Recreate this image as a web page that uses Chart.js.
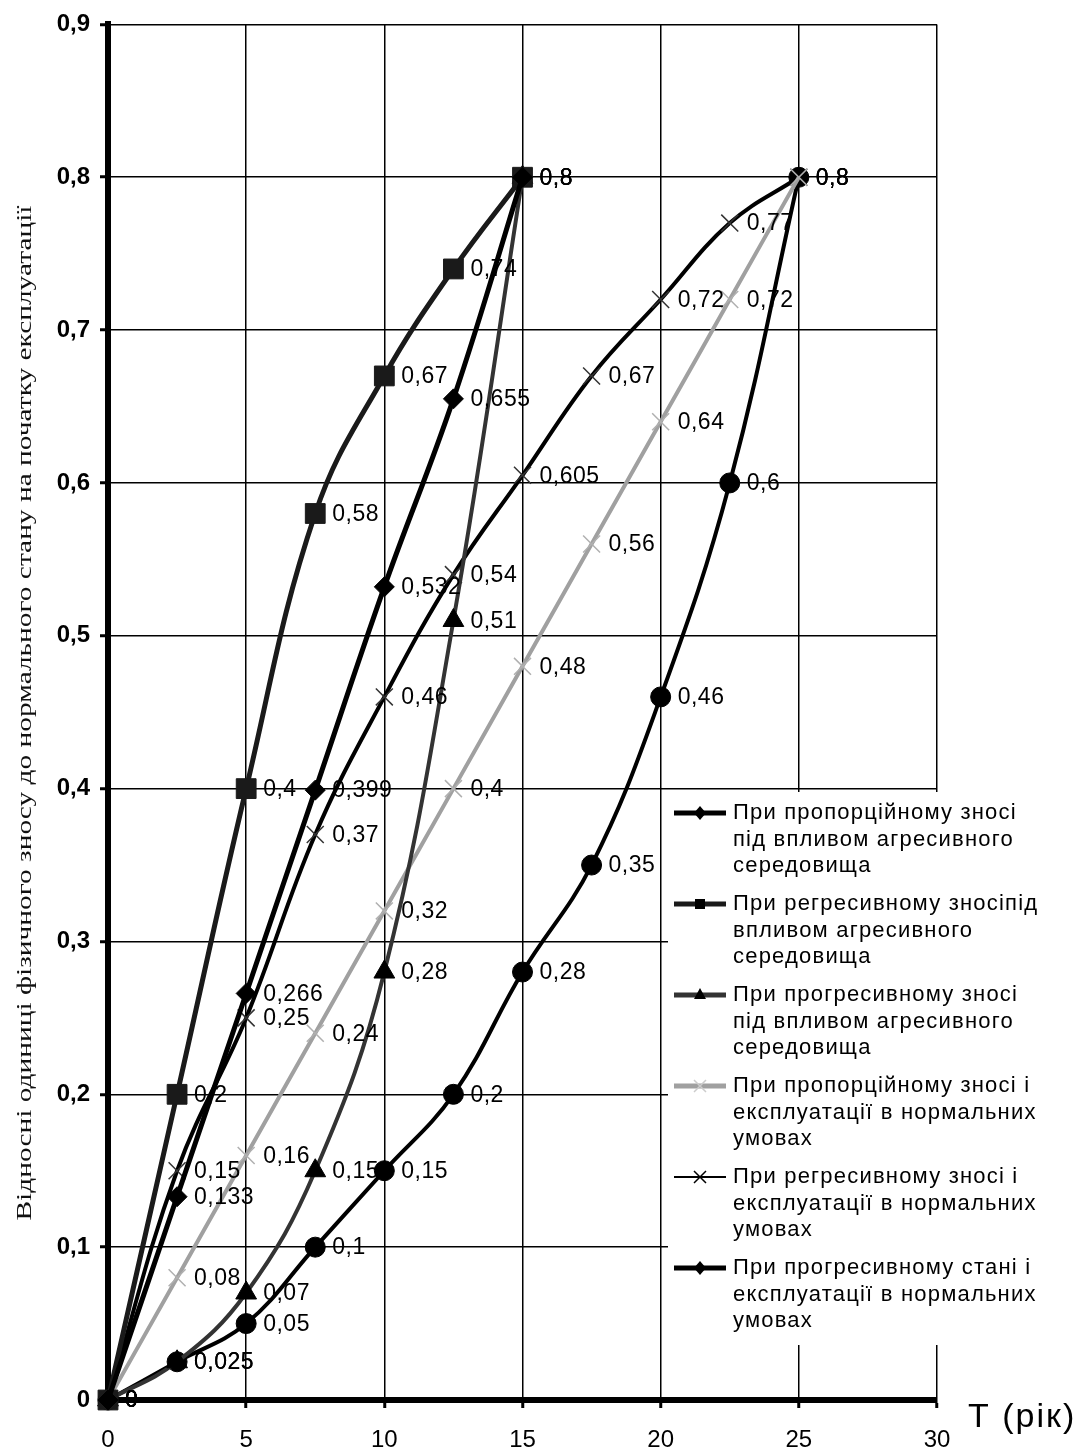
<!DOCTYPE html>
<html>
<head>
<meta charset="utf-8">
<script src="https://cdn.jsdelivr.net/npm/chart.js@4.4.1/dist/chart.umd.min.js"></script>
<style>
  body { margin: 0; background: #fff; }
  #wrap { width: 1075px; height: 1453px; position: relative; }
</style>
</head>
<body>
<div id="wrap"><canvas id="chart"></canvas></div>
<script>
// years (x axis)
const years = [0, 2.5, 5, 7.5, 10, 12.5, 15, 17.5, 20, 22.5, 25];

// series values
const propAggr = [0, 0.133, 0.266, 0.399, 0.532, 0.655, 0.8];
const regrAggr = [0, 0.2, 0.4, 0.58, 0.67, 0.74, 0.8];
const progAggr = [0, 0.025, 0.07, 0.15, 0.28, 0.51, 0.8];
const propNorm = [0, 0.08, 0.16, 0.24, 0.32, 0.4, 0.48, 0.56, 0.64, 0.72, 0.8];
const regrNorm = [0, 0.15, 0.25, 0.37, 0.46, 0.54, 0.605, 0.67, 0.72, 0.77, 0.8];
const progNorm = [0, 0.025, 0.05, 0.1, 0.15, 0.2, 0.28, 0.35, 0.46, 0.6, 0.8];

// legend text, as wrapped in the picture
const legendLines = [
    ['При пропорційному зносі', 'під впливом агресивного', 'середовища'],
    ['При регресивному зносіпід', 'впливом агресивного', 'середовища'],
    ['При прогресивному зносі', 'під впливом агресивного', 'середовища'],
    ['При пропорційному зносі і', 'експлуатації в нормальних', 'умовах'],
    ['При регресивному зносі і', 'експлуатації в нормальних', 'умовах'],
    ['При прогресивному стані і', 'експлуатації в нормальних', 'умовах']
];

const yTitle = 'Відносні одиниці фізичного зносу до нормального стану на початку експлуатації';
const xTitle = 'T (рік)';

const FONT = '"Liberation Sans", Arial, sans-serif';

function pts(values) {
    return values.map((v, i) => ({ x: years[i], y: v }));
}

function fmt(v) {
    return String(v).replace('.', ',');
}

function series(label, values, color, width, style, radius, markColor, markWidth) {
    return {
        label: label,
        data: pts(values),
        borderColor: color,
        borderWidth: width,
        backgroundColor: markColor || color,
        pointStyle: style,
        pointRadius: radius,
        pointBackgroundColor: markColor || color,
        pointBorderColor: markColor || color,
        pointBorderWidth: markWidth || 1,
        tension: 0.4,
        clip: false
    };
}

const datasets = [
    series(legendLines[0].join(' '), propAggr, '#000', 5, 'rectRot', 10),
    series(legendLines[1].join(' '), regrAggr, '#1a1a1a', 5, 'rect', 14),
    series(legendLines[2].join(' '), progAggr, '#333', 4, 'triangle', 12, '#000'),
    series(legendLines[3].join(' '), propNorm, '#a0a0a0', 4, 'crossRot', 12, '#b0b0b0', 1.5),
    series(legendLines[4].join(' '), regrNorm, '#000', 4, 'crossRot', 12, '#333', 1.5),
    series(legendLines[5].join(' '), progNorm, '#000', 4, 'circle', 10)
];

// value labels right of every point
const valueLabels = {
    id: 'valueLabels',
    afterDatasetsDraw(chart) {
        const ctx = chart.ctx;
        ctx.save();
        ctx.font = '23px ' + FONT;
        ctx.letterSpacing = '0.5px';
        ctx.fillStyle = '#000';
        ctx.textBaseline = 'middle';
        chart.data.datasets.forEach((ds, di) => {
            chart.getDatasetMeta(di).data.forEach((p, i) => {
                ctx.fillText(fmt(ds.data[i].y), p.x + 17, p.y + 1);
            });
        });
        ctx.restore();
    }
};

// legend box over the lower right part of the plot
const boxLegend = {
    id: 'boxLegend',
    afterDraw(chart) {
        const ctx = chart.ctx;
        ctx.save();
        ctx.fillStyle = '#fff';
        ctx.fillRect(668, 792, 407, 553);
        ctx.font = '22px ' + FONT;
        ctx.letterSpacing = '1.2px';
        ctx.textBaseline = 'middle';
        legendLines.forEach((lines, i) => {
            const y0 = 813 + i * 91;
            const ds = datasets[i];
            ctx.strokeStyle = ds.borderColor;
            ctx.lineWidth = i === 4 ? 2 : 5;
            ctx.beginPath();
            ctx.moveTo(674, y0);
            ctx.lineTo(726, y0);
            ctx.stroke();
            const cx = 700;
            ctx.fillStyle = i === 3 ? '#ccc' : '#000';
            ctx.strokeStyle = i === 3 ? '#ccc' : '#000';
            ctx.lineWidth = 1.5;
            ctx.beginPath();
            if (i === 1) {
                ctx.rect(cx - 5, y0 - 5, 10, 10);
                ctx.fill();
            } else if (i === 2) {
                ctx.moveTo(cx, y0 - 7); ctx.lineTo(cx + 6, y0 + 4); ctx.lineTo(cx - 6, y0 + 4);
                ctx.closePath(); ctx.fill();
            } else if (i === 3 || i === 4) {
                ctx.moveTo(cx - 6, y0 - 6); ctx.lineTo(cx + 6, y0 + 6);
                ctx.moveTo(cx + 6, y0 - 6); ctx.lineTo(cx - 6, y0 + 6);
                ctx.stroke();
            } else {
                ctx.moveTo(cx, y0 - 7); ctx.lineTo(cx + 6, y0); ctx.lineTo(cx, y0 + 7); ctx.lineTo(cx - 6, y0);
                ctx.closePath(); ctx.fill();
            }
            ctx.fillStyle = '#000';
            lines.forEach((t, j) => ctx.fillText(t, 733, y0 + j * 26.5));
        });
        ctx.restore();
    }
};

// axis titles
const titles = {
    id: 'titles',
    afterDraw(chart) {
        const ctx = chart.ctx;
        ctx.save();
        ctx.fillStyle = '#111';
        ctx.font = '22px "Liberation Serif", serif';
        ctx.textAlign = 'center';
        ctx.textBaseline = 'middle';
        const w = ctx.measureText(yTitle).width;
        ctx.translate(25, 713);
        ctx.rotate(-Math.PI / 2);
        ctx.scale(1015 / w, 1);
        ctx.fillText(yTitle, 0, 0);
        ctx.restore();

        ctx.save();
        ctx.fillStyle = '#000';
        ctx.font = '34px ' + FONT;
        ctx.letterSpacing = '2px';
        ctx.textBaseline = 'middle';
        ctx.fillText(xTitle, 968, 1418);
        ctx.restore();
    }
};

new Chart(document.getElementById('chart').getContext('2d'), {
    type: 'line',
    data: { datasets: datasets },
    options: {
        responsive: true,
        maintainAspectRatio: false,
        animation: false,
        layout: { padding: { left: 0, right: 138, top: 18, bottom: 0 } },
        plugins: { legend: { display: false }, tooltip: { enabled: false } },
        scales: {
            x: {
                type: 'linear',
                min: 0,
                max: 30,
                ticks: {
                    stepSize: 5,
                    color: '#000',
                    padding: 18,
                    font: { family: FONT, size: 24 },
                    maxRotation: 0
                },
                grid: { color: '#000', lineWidth: 1.5, tickLength: 8, tickColor: '#000', tickWidth: 3 },
                border: { display: true, color: '#000', width: 6 },
                afterFit(scale) { scale.height = 53; }
            },
            y: {
                min: 0,
                max: 0.9,
                ticks: {
                    stepSize: 0.1,
                    color: '#000',
                    padding: 10,
                    font: { family: FONT, size: 24, weight: 'bold' },
                    callback: v => fmt(Math.round(v * 10) / 10)
                },
                grid: { color: '#000', lineWidth: 1.5, tickLength: 8, tickColor: '#000', tickWidth: 3 },
                border: { display: true, color: '#000', width: 6 },
                afterFit(scale) { scale.width = 108; }
            }
        }
    },
    plugins: [valueLabels, boxLegend, titles]
});
</script>
</body>
</html>
